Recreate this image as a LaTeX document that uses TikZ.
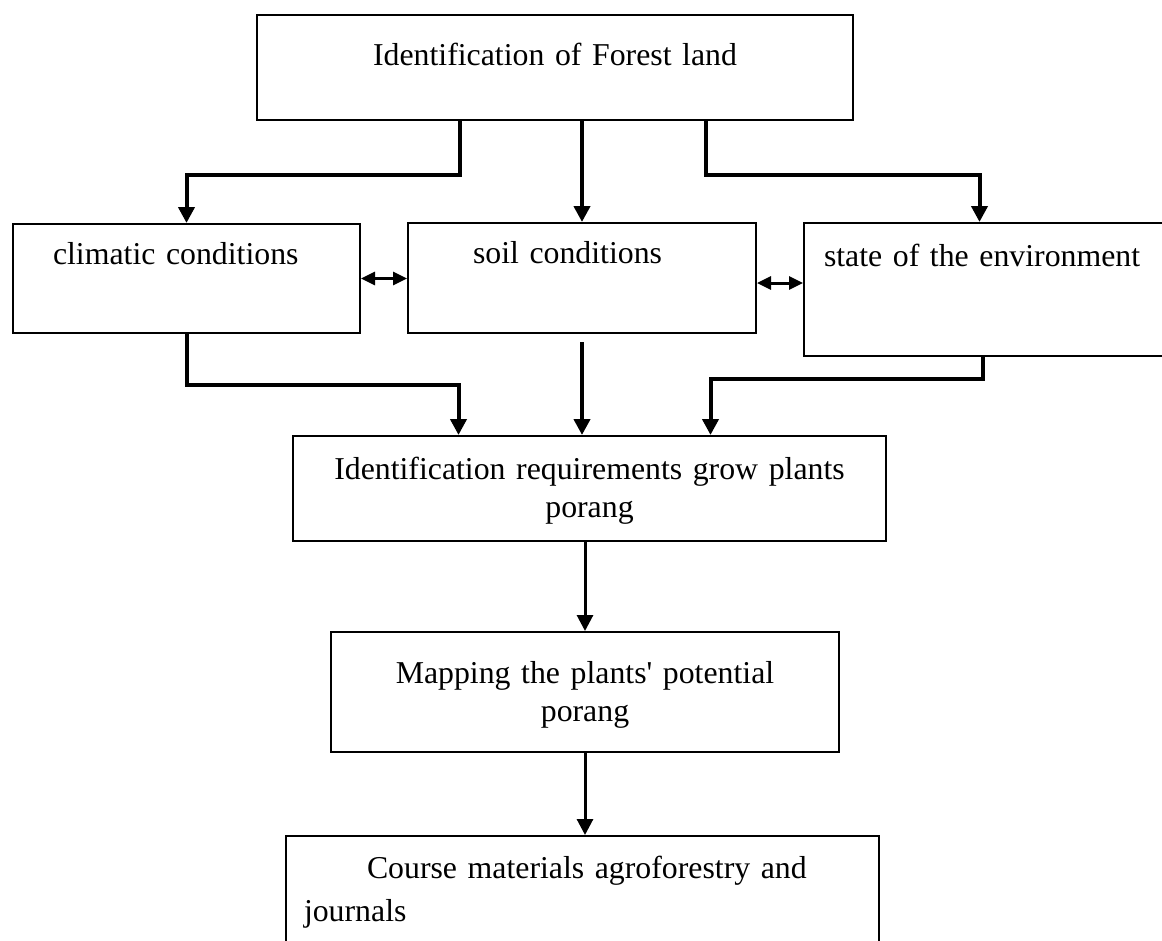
\documentclass[tikz,border=0pt]{standalone}
\usepackage{fontspec}
\setmainfont{Liberation Serif}
\usetikzlibrary{arrows.meta}

\begin{document}
\begin{tikzpicture}[x=1pt, y=-1pt,
  font=\fontsize{31.8}{38}\selectfont,
  box/.style={draw, line width=2pt, anchor=north west, inner ysep=0pt},
  conn/.style={line width=4pt, -{Triangle[length=16pt,width=16pt]}},
  thinconn/.style={line width=3pt, -{Triangle[length=16pt,width=16pt]}},
  both/.style={line width=3pt, {Triangle[length=14pt,width=13pt]}-{Triangle[length=14pt,width=13pt]}}]

\useasboundingbox (0,0) rectangle (1162,940);
\clip (0,0) rectangle (1162,940);

% Draw the boxes
\node[box, inner xsep=0pt, text width=596pt, align=center, text height=50pt, text depth=55pt]
  (land) at (256,14) {Identification of Forest land};
\node[box, inner xsep=40pt, text width=267pt, align=left, text height=40pt, text depth=69pt]
  (climatic) at (12,223) {climatic conditions};
\node[box, inner xsep=65pt, text width=218pt, align=left, text height=40pt, text depth=70pt]
  (soil) at (407,222) {soil conditions};
\node[box, inner xsep=20pt, text width=337pt, align=left, text height=43pt, text depth=90pt]
  (state) at (803,222) {state of the environment};
\node[box, inner xsep=0pt, text width=593pt, align=center, text height=43pt, text depth=62pt]
  (ident) at (292,435) {Identification requirements grow plants\\ porang};
\node[box, inner xsep=0pt, text width=508pt, align=center, text height=51pt, text depth=69pt]
  (mapping) at (330,631) {Mapping the plants\textquotesingle{} potential\\ porang};
\node[box, inner xsep=18pt, text width=557pt, align=left, text height=42pt, text depth=83pt]
  (course) at (285,835) {\hspace*{63pt}Course materials agroforestry and\\[5pt] journals};

% Draw the arrows from the top box
\draw[conn] ([xshift=-95pt]land.south) -- ++(0,54) -| (climatic.north);
\draw[conn] (soil.north |- land.south) -- (soil.north);
\draw[conn] ([xshift=151pt]land.south) -- ++(0,54) -| ([xshift=-13pt]state.north);

% Draw the two-way arrows
\draw[both] (climatic.east) -- (climatic.east -| soil.west);
\draw[both] ([yshift=-5pt]soil.east) -- ([yshift=-5pt]soil.east -| state.west);

% Draw the arrows into the requirements box
\draw[conn] (climatic.south) -- ++(0,51) -| ([xshift=-131pt]ident.north);
\draw[conn] ([yshift=-8pt]soil.south) -- (soil.south |- ident.north);
\draw[conn] ([xshift=-10pt]state.south) -- ++(0,22) -| ([xshift=121pt]ident.north);

% Draw the arrows down the middle
\draw[thinconn] (mapping.north |- ident.south) -- (mapping.north);
\draw[thinconn] (mapping.south) -- (mapping.south |- course.north);
\end{tikzpicture}
\end{document}
